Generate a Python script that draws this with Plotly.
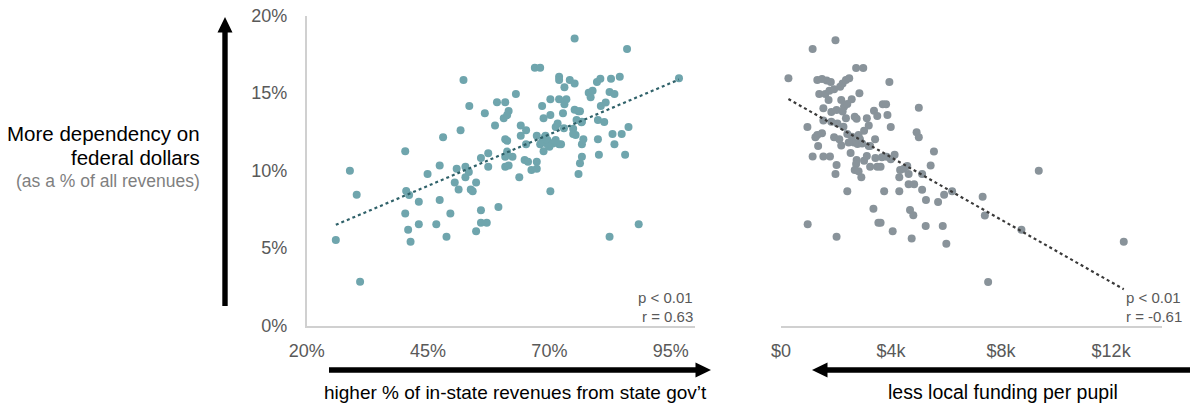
import numpy as np
import plotly.graph_objects as go

W, H = 1190, 407

# ---- data ----
state_share_pct = [
    26.0, 31.0, 28.9, 30.3, 40.3, 40.5, 40.3, 40.9, 41.4, 43.1,
    43.1, 44.9, 46.7, 47.4, 47.4, 48.1, 48.8, 49.6, 50.5, 50.9,
    51.3, 51.7, 52.3, 52.7, 52.7, 53.4, 53.5, 53.8, 54.2, 54.9,
    54.9, 55.9, 55.9, 55.9, 56.7, 57.1, 57.4, 57.4, 58.8, 59.2,
    59.5, 60.6, 60.9, 60.9, 61.3, 61.6, 61.3, 60.9, 60.9, 61.6,
    62.4, 63.1, 63.8, 64.1, 64.1, 64.9, 65.2, 65.2, 65.6, 66.3,
    67.0, 67.4, 67.4, 67.4, 68.1, 68.1, 68.5, 68.8, 68.8, 69.2,
    69.6, 70.2, 70.2, 70.2, 71.0, 71.3, 71.7, 72.0, 72.0, 72.0,
    72.0, 72.4, 72.8, 73.1, 73.1, 73.5, 74.2, 74.9, 75.2, 75.2,
    74.9, 75.2, 75.6, 76.0, 76.3, 76.0, 76.3, 76.7, 76.7, 77.0,
    76.7, 78.1, 78.5, 78.9, 79.8, 80.0, 80.0, 80.2, 80.5, 80.6,
    81.3, 81.6, 82.4, 82.4, 82.7, 83.0, 83.4, 83.4, 84.5, 84.9,
    85.6, 86.0, 86.3, 88.4, 96.7, 68.5, 69.6, 70.7, 71.3, 70.0,
    69.1, 61.3, 75.4, 73.0, 76.6, 41.1,
]
federal_share_left = [
    5.52, 2.83, 9.99, 8.44, 11.24, 8.68, 7.22, 6.18, 5.41, 7.99,
    6.53, 9.77, 6.53, 10.33, 8.10, 12.14, 5.73, 7.22, 9.22, 10.12,
    8.78, 12.59, 15.84, 10.25, 9.56, 9.90, 14.16, 8.78, 8.66, 9.22,
    6.08, 10.81, 7.43, 6.63, 13.69, 6.63, 11.11, 10.25, 12.91, 14.40,
    7.65, 13.37, 14.40, 12.01, 13.58, 13.84, 11.92, 10.89, 10.25, 10.33,
    10.89, 14.94, 9.56, 12.91, 12.25, 10.68, 12.59, 11.69, 10.57, 10.03,
    16.63, 10.57, 12.25, 10.12, 16.63, 11.69, 14.16, 13.37, 11.24, 12.25,
    11.69, 14.59, 13.58, 8.66, 11.80, 12.81, 13.04, 11.69, 14.59, 16.05,
    15.84, 11.69, 13.69, 15.37, 14.27, 14.59, 15.84, 12.70, 15.62, 13.92,
    12.35, 18.51, 13.26, 13.82, 13.82, 9.77, 10.46, 10.89, 11.69, 12.01,
    13.15, 15.02, 14.72, 15.15, 15.71, 13.26, 12.01, 11.02, 15.92, 14.16,
    13.13, 14.38, 15.06, 5.73, 15.92, 12.35, 11.69, 14.94, 16.05, 12.35,
    11.02, 17.84, 12.81, 6.53, 15.95, 11.86, 11.97, 11.75, 11.97, 11.54,
    12.18, 11.22, 12.29, 12.72, 13.11, 8.42,
]

local_funding_k = [
    0.27, 1.15, 1.98, 2.73, 2.99, 1.32, 1.49, 1.66, 1.81, 2.15,
    2.24, 2.36, 2.48, 1.39, 1.61, 1.76, 1.93, 1.73, 2.19, 2.57,
    2.85, 3.94, 1.54, 1.83, 2.02, 2.29, 2.41, 2.24, 3.70, 3.82,
    5.01, 0.96, 1.54, 1.83, 2.05, 2.27, 2.36, 2.68, 2.75, 3.12,
    3.38, 3.50, 3.87, 3.99, 3.19, 3.02, 2.82, 4.93, 5.01, 1.32,
    1.49, 1.25, 1.35, 1.93, 2.12, 2.41, 2.58, 2.65, 2.78, 2.87,
    2.95, 3.19, 3.42, 3.24, 2.19, 2.46, 1.15, 1.54, 1.78, 2.53,
    2.75, 2.73, 3.02, 3.12, 3.43, 3.67, 3.84, 3.99, 4.13, 5.56,
    5.44, 2.02, 1.98, 2.68, 2.82, 2.92, 3.24, 3.50, 3.62, 4.33,
    4.59, 4.64, 4.47, 4.30, 5.13, 4.64, 4.84, 2.41, 3.75, 4.30,
    5.13, 5.93, 6.22, 5.27, 5.71, 7.33, 9.37, 3.36, 4.69, 4.81,
    7.41, 0.97, 3.54, 3.62, 5.26, 5.88, 4.06, 2.02, 4.75, 6.01,
    8.74, 12.46, 7.53,
]
federal_share_right = [
    15.95, 17.84, 18.40, 16.61, 16.61, 15.84, 15.90, 15.80, 15.71, 15.41,
    15.62, 15.84, 15.95, 14.94, 14.94, 15.15, 15.24, 14.55, 14.55, 14.59,
    14.98, 15.71, 14.01, 13.77, 13.90, 14.12, 14.29, 13.80, 14.27, 14.27,
    14.05, 12.81, 13.22, 13.15, 13.04, 12.83, 13.37, 13.47, 13.34, 13.37,
    13.86, 13.52, 13.58, 12.81, 12.91, 12.57, 12.29, 12.46, 12.14, 12.29,
    12.40, 12.14, 11.58, 12.14, 12.01, 12.35, 12.18, 11.80, 11.71, 12.01,
    11.75, 11.58, 12.01, 11.58, 11.62, 11.80, 10.91, 10.91, 10.91, 11.13,
    10.68, 10.42, 10.63, 10.94, 10.81, 10.85, 10.89, 10.72, 11.02, 11.22,
    10.33, 10.35, 9.77, 10.03, 9.95, 9.56, 10.25, 10.25, 10.25, 10.03,
    10.29, 9.77, 10.12, 9.56, 9.77, 9.11, 9.11, 8.66, 8.66, 8.66,
    8.76, 8.44, 8.66, 8.10, 7.97, 8.31, 9.99, 7.54, 7.45, 7.11,
    7.09, 6.53, 6.63, 6.63, 6.42, 6.42, 6.08, 5.73, 5.62, 5.28,
    6.18, 5.41, 2.81,
]

y_ticks = [0, 5, 10, 15, 20]
y_ticktext = ["0%", "5%", "10%", "15%", "20%"]
left_ticks = [20, 45, 70, 95]
left_ticktext = ["20%", "45%", "70%", "95%"]
right_ticks = [0, 4, 8, 12]
right_ticktext = ["$0", "$4k", "$8k", "$12k"]

# ---- helpers: pixel -> paper ----
def PX(x):
    return x / W

def PY(y):
    return 1 - y / H

FONT = "Liberation Sans, Arial, sans-serif"
TEAL = "#6fa5ad"
GRAY = "#89939a"
TICK_COL = "#595959"
AXIS_COL = "#d0d0d0"
MSIZE = 8

fig = go.Figure()

# left scatter
fig.add_trace(go.Scatter(
    x=state_share_pct, y=federal_share_left, mode="markers",
    marker=dict(size=MSIZE, color=TEAL), xaxis="x", yaxis="y", hoverinfo="x+y",
))
# left trend (least squares fit)
xl = np.array(state_share_pct); yl = np.array(federal_share_left)
ml, bl = np.polyfit(xl, yl, 1)
tx = np.array([xl.min(), xl.max()])
fig.add_trace(go.Scatter(
    x=tx, y=ml * tx + bl, mode="lines",
    line=dict(color="#2f6169", width=2.2, dash="dot"), xaxis="x", yaxis="y",
    hoverinfo="skip",
))

# right scatter
fig.add_trace(go.Scatter(
    x=local_funding_k, y=federal_share_right, mode="markers",
    marker=dict(size=MSIZE, color=GRAY), xaxis="x2", yaxis="y2", hoverinfo="x+y",
))
xr = np.array(local_funding_k); yr = np.array(federal_share_right)
mr, br = np.polyfit(xr, yr, 1)
tx2 = np.array([xr.min(), xr.max()])
fig.add_trace(go.Scatter(
    x=tx2, y=mr * tx2 + br, mode="lines",
    line=dict(color="#3a3a3a", width=2.2, dash="dot"), xaxis="x2", yaxis="y2",
    hoverinfo="skip",
))

y_dom = [PY(325.5), PY(15.5)]

fig.update_layout(
    width=W, height=H,
    margin=dict(l=0, r=0, t=0, b=0),
    paper_bgcolor="white", plot_bgcolor="white",
    showlegend=False,
    font=dict(family=FONT, color=TICK_COL),
    xaxis=dict(
        domain=[PX(306.7), PX(695)], range=[20, 100], anchor="y",
        tickvals=left_ticks, ticktext=left_ticktext,
        showline=True, linecolor=AXIS_COL, linewidth=1.5,
        showgrid=False, zeroline=False, ticks="",
        tickfont=dict(size=18, color=TICK_COL), ticklabelstandoff=8,
        automargin=False,
    ),
    yaxis=dict(
        domain=y_dom, range=[0, 20], anchor="x",
        tickvals=y_ticks, ticktext=y_ticktext,
        showline=True, linecolor=AXIS_COL, linewidth=1.5,
        showgrid=False, zeroline=False, ticks="",
        tickfont=dict(size=18, color=TICK_COL), ticklabelstandoff=14,
        automargin=False,
    ),
    xaxis2=dict(
        domain=[PX(781), PX(1162)], range=[0, 13.85], anchor="y2",
        tickvals=right_ticks, ticktext=right_ticktext,
        showline=True, linecolor=AXIS_COL, linewidth=1.5,
        showgrid=False, zeroline=False, ticks="",
        tickfont=dict(size=18, color=TICK_COL), ticklabelstandoff=8,
        automargin=False,
    ),
    yaxis2=dict(
        domain=y_dom, range=[0, 20], anchor="x2", visible=False,
    ),
)

# ---- arrows (decorative shapes) ----
def path_from_px(points):
    s = "M " + " L ".join(f"{PX(x):.5f},{PY(y):.5f}" for x, y in points) + " Z"
    return s

shapes = []
# vertical up arrow
shapes.append(dict(type="path", xref="paper", yref="paper", fillcolor="black",
                   line=dict(width=0),
                   path=path_from_px([(222.3, 306), (227.7, 306), (227.7, 32.5), (232.5, 32.5),
                                      (225, 17), (217.5, 32.5), (222.3, 32.5)])))
# left horizontal arrow (to the right)
shapes.append(dict(type="path", xref="paper", yref="paper", fillcolor="black",
                   line=dict(width=0),
                   path=path_from_px([(329, 367.3), (695.5, 367.3), (695.5, 362.5), (711, 370),
                                      (695.5, 377.5), (695.5, 372.7), (329, 372.7)])))
# right horizontal arrow (to the left)
shapes.append(dict(type="path", xref="paper", yref="paper", fillcolor="black",
                   line=dict(width=0),
                   path=path_from_px([(1190, 367.3), (827.5, 367.3), (827.5, 362.5), (812, 370),
                                      (827.5, 377.5), (827.5, 372.7), (1190, 372.7)])))
fig.update_layout(shapes=shapes)

# ---- text ----
ann = []
def add_text(text, x, y, xanchor, size, color, yanchor="middle"):
    ann.append(dict(text=text, x=PX(x), y=PY(y), xref="paper", yref="paper",
                    xanchor=xanchor, yanchor=yanchor, showarrow=False,
                    font=dict(size=size, color=color, family=FONT)))

add_text("More dependency on", 202, 133, "right", 20.5, "#000000")
add_text("federal dollars", 202, 157, "right", 20.5, "#000000")
add_text("(as a % of all revenues)", 202, 181, "right", 17.5, "#7f7f7f")

add_text("p &lt; 0.01", 695, 297.5, "right", 15, TICK_COL)
add_text("r = 0.63", 695, 316, "right", 15, TICK_COL)
add_text("p &lt; 0.01", 1124, 297.5, "left", 15, TICK_COL)
add_text("r = -0.61", 1124, 316, "left", 15, TICK_COL)

add_text("higher % of in-state revenues from state gov’t", 515, 392, "center", 19, "#000000")
add_text("less local funding per pupil", 1003, 392, "center", 19.5, "#000000")
fig.update_layout(annotations=ann)

fig.write_html(
    "out.html",
    config={"displayModeBar": False},
    post_script="document.body.style.margin='0';document.body.style.overflow='hidden';",
)
